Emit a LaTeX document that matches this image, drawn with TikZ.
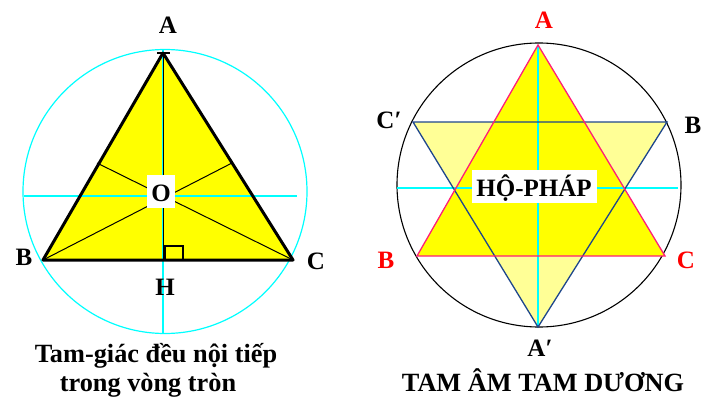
\documentclass[tikz,border=0pt]{standalone}
\usepackage{fontspec}
\setmainfont{Liberation Serif}
\definecolor{ylw}{RGB}{255,255,0}
\definecolor{lylw}{RGB}{255,255,150}
\definecolor{cyn}{RGB}{0,255,255}
\definecolor{pnk}{RGB}{255,30,120}
\definecolor{nvy}{RGB}{30,70,140}
\definecolor{rd}{RGB}{255,0,0}
\begin{document}
\begin{tikzpicture}[x=1pt,y=-1pt,
  lbl/.style={font=\fontsize{25}{29}\selectfont\bfseries, inner sep=0pt},
  captxt/.style={font=\fontsize{26.3}{30}\selectfont\bfseries, inner sep=0pt, anchor=base},
  cyanline/.style={draw=cyn, line width=1.2pt},
  thinblack/.style={draw=black, line width=1pt},
  triedge/.style={draw=black, line width=3pt, line cap=round, line join=round},
  blueedge/.style={draw=nvy, line width=1.3pt},
  pinkedge/.style={draw=pnk, line width=1.3pt},
  wbox/.style={fill=white, inner sep=0pt}]
\useasboundingbox (0,0) rectangle (701,396);
% ---------- left figure ----------
\coordinate (LA) at (163,53);
\coordinate (LB) at (43,260);
\coordinate (LC) at (293,260);
\coordinate (LH) at (163,260);
\coordinate (Ltop) at (163,50);
\coordinate (Lbot) at (163,333);
\coordinate (Lhl) at (24,196);
\coordinate (Lhr) at (297,196);
\coordinate (LmAB) at (97,163);
\coordinate (LmAC) at (232,163);
\coordinate (Lsq1) at (165,246);
\coordinate (Lsq2) at (183,260);
\coordinate (Ltk1) at (157,53);
\coordinate (Ltk2) at (170,53);
\fill[ylw] (LA) -- (LB) -- (LC) -- cycle;
\draw[cyanline] (165,191.5) circle[radius=142pt];
\draw[cyanline] (Ltop) -- (Lbot);
\draw[cyanline] (Lhl) -- (Lhr);
\draw[thinblack] (LC) -- (LmAB);
\draw[thinblack] (LB) -- (LmAC);
\draw[thinblack] (LA) -- (LH);
\draw[black, line width=1.5pt] (Lsq1) rectangle (Lsq2);
\draw[triedge] (LA) -- (LB) -- (LC) -- cycle;
\draw[black, line width=2.5pt] (Ltk1) -- (Ltk2);
\node[wbox, minimum width=28pt, minimum height=33pt] (LObox) at (161,191.5) {};
\node[lbl] (LO) at (161,193) {O};
\node[lbl] (LAl) at (168,25) {A};
\node[lbl] (LBl) at (24,257) {B};
\node[lbl] (LCl) at (316,261) {C};
\node[lbl] (LHl) at (165,287) {H};
\node[captxt] (Lcap1) at (156,362) {Tam-giác đều nội tiếp};
\node[captxt] (Lcap2) at (148,391) {trong vòng tròn};
% ---------- right figure ----------
\coordinate (RA) at (538,45);
\coordinate (RB) at (417,256);
\coordinate (RC) at (665,256);
\coordinate (RCp) at (413,122);
\coordinate (RBp) at (667,122);
\coordinate (RAp) at (538,327);
\coordinate (Rhl) at (397,188);
\coordinate (Rhr) at (678,188);
\draw[black, line width=1.1pt] (539,185) circle[radius=142pt];
\fill[lylw] (RCp) -- (RBp) -- (RAp) -- cycle;
\fill[ylw] (RA) -- (RB) -- (RC) -- cycle;
\draw[cyanline] (RA) -- (RAp);
\draw[cyanline] (Rhl) -- (Rhr);
\draw[blueedge] (RCp) -- (RBp) -- (RAp) -- cycle;
\draw[pinkedge] (RA) -- (RB) -- (RC) -- cycle;
\node[wbox, minimum width=125pt, minimum height=33pt] (Rbox) at (534.5,186.5) {};
\node[lbl] (Rtxt) at (534,188) {HỘ-PHÁP};
\node[lbl, text=rd] (RAl) at (544,20) {A};
\node[lbl] (RCpl) at (389,120) {C′};
\node[lbl] (RBpl) at (693,125) {B};
\node[lbl, text=rd] (RBl) at (386,260) {B};
\node[lbl, text=rd] (RCl) at (686,260) {C};
\node[lbl] (RApl) at (540,348) {A′};
\node[captxt] (Rcap) at (543,391) {TAM ÂM TAM DƯƠNG};
\end{tikzpicture}
\end{document}
